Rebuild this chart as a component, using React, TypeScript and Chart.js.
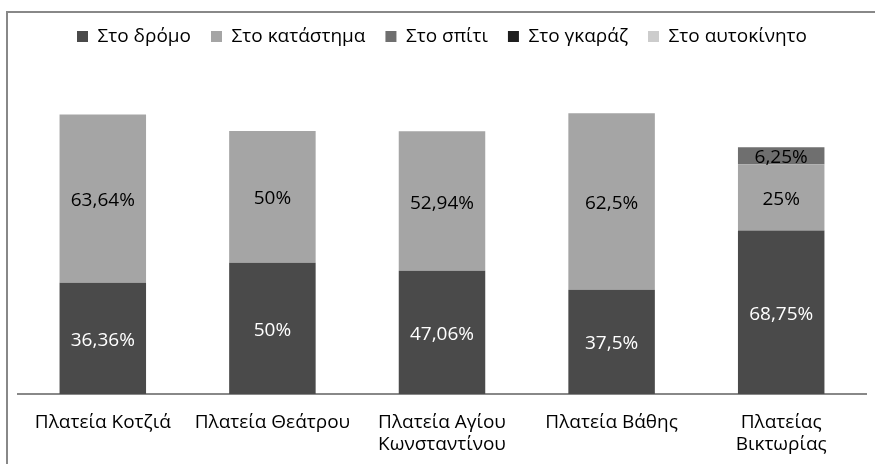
import React, { useEffect, useRef } from "react";
import { Chart, registerables } from "chart.js";

Chart.register(...registerables);

const FONT = "'Open Sans', 'Noto Sans', sans-serif";

const categories: (string | string[])[] = [
  "Πλατεία Κοτζιά",
  "Πλατεία Θεάτρου",
  ["Πλατεία Αγίου", "Κωνσταντίνου"],
  "Πλατεία Βάθης",
  ["Πλατείας", "Βικτωρίας"],
];

const seriesNames = ["Στο δρόμο", "Στο κατάστημα", "Στο σπίτι", "Στο γκαράζ", "Στο αυτοκίνητο"];
const seriesColors = ["#4a4a4a", "#a5a5a5", "#6f6f6f", "#1e1e1e", "#cccccc"];
const labelColors = ["#ffffff", "#000000", "#000000", "#ffffff", "#000000"];

// bar heights as drawn
const roadValues = [42.4, 50.0, 46.9, 39.7, 62.3];
const shopValues = [64.0, 50.1, 53.1, 67.2, 25.2];
const homeValues = [0, 0, 0, 0, 6.5];
const garageValues = [0, 0, 0, 0, 0];
const carValues = [0, 0, 0, 0, 0];

// printed labels
const roadLabels = ["36,36%", "50%", "47,06%", "37,5%", "68,75%"];
const shopLabels = ["63,64%", "50%", "52,94%", "62,5%", "25%"];
const homeLabels = ["", "", "", "", "6,25%"];
const garageLabels = ["", "", "", "", ""];
const carLabels = ["", "", "", "", ""];

const Y_MAX = 128.7;

const allValues = [roadValues, shopValues, homeValues, garageValues, carValues];
const allLabels = [roadLabels, shopLabels, homeLabels, garageLabels, carLabels];

const framePlugin = {
  id: "frame",
  beforeDraw(chart: any) {
    const ctx = chart.ctx;
    ctx.save();
    ctx.strokeStyle = "#888888";
    ctx.lineWidth = 2;
    ctx.strokeRect(7, 12, 1000, 1000);
    ctx.restore();
  },
};

const segLabelPlugin = {
  id: "segLabels",
  afterDatasetsDraw(chart: any) {
    const ctx = chart.ctx;
    ctx.save();
    ctx.font = `19px ${FONT}`;
    ctx.textAlign = "center";
    ctx.textBaseline = "middle";
    chart.data.datasets.forEach((_ds: any, di: number) => {
      const meta = chart.getDatasetMeta(di);
      const texts = allLabels[di];
      meta.data.forEach((el: any, i: number) => {
        const t = texts[i];
        if (!t) return;
        const { x, y, base } = el.getProps(["x", "y", "base"], true);
        ctx.fillStyle = labelColors[di];
        ctx.fillText(t, x, (y + base) / 2 + 2);
      });
    });
    ctx.restore();
  },
};

export default function App() {
  const ref = useRef<HTMLCanvasElement | null>(null);
  useEffect(() => {
    if (!ref.current) return;
    const chart = new Chart(ref.current, {
      type: "bar",
      data: {
        labels: categories,
        datasets: seriesNames.map((name, i) => ({
          label: name,
          data: allValues[i],
          backgroundColor: seriesColors[i],
          borderWidth: 0,
          categoryPercentage: 1,
          barPercentage: 0.51,
        })),
      },
      options: {
        responsive: false,
        animation: false,
        layout: { padding: { top: 7, left: 18, right: 9, bottom: 0 } },
        plugins: {
          tooltip: { enabled: false },
          legend: {
            display: true,
            position: "top",
            labels: {
              boxWidth: 11,
              boxHeight: 11,
              padding: 20,
              color: "#000000",
              font: { family: FONT, size: 19 },
            },
          },
        },
        scales: {
          x: {
            stacked: true,
            grid: { display: false, drawTicks: false },
            border: { display: true, color: "#888888", width: 2 },
            ticks: {
              color: "#000000",
              font: { family: FONT, size: 19, lineHeight: 1.16 },
              padding: 18,
              maxRotation: 0,
              autoSkip: false,
            },
            afterFit: (scale: any) => {
              scale.height = 70;
            },
          },
          y: {
            stacked: true,
            display: false,
            min: 0,
            max: Y_MAX,
          },
        },
      },
      plugins: [framePlugin, segLabelPlugin],
    });
    return () => chart.destroy();
  }, []);
  return (
    <div style={{ position: "absolute", left: 0, top: 0, width: 875, height: 464 }}>
      <canvas ref={ref} width={875} height={464} style={{ display: "block" }} />
    </div>
  );
}
